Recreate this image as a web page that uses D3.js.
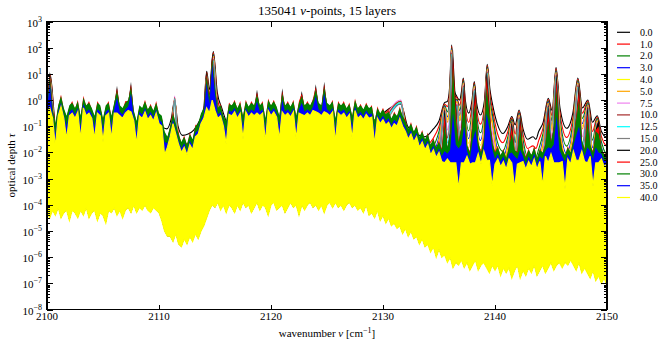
<!DOCTYPE html>
<html><head><meta charset="utf-8">
<script src="https://cdn.jsdelivr.net/npm/d3@7"></script>
<style>
body{margin:0;background:#fff}
svg{display:block}
text{font-family:"Liberation Serif","Times New Roman",serif;fill:#000}
</style>
</head><body>
<svg id="c" width="664" height="345"></svg>
<script>
// ---------------- data (optical depth, stored as log10(tau)) ----------------
const layers = ["0.0","1.0","2.0","3.0","4.0","5.0","7.5","10.0","12.5","15.0","20.0","25.0","30.0","35.0","40.0"];
const xTicks = [2100, 2110, 2120, 2130, 2140, 2150];
const yTickExponents = [3, 2, 1, 0, -1, -2, -3, -4, -5, -6, -7, -8];

// wavenumbers of the read-off nodes for the broad-line layers (0.0 ... 15.0)
const nuNodes = [2100.0, 2100.27, 2100.8, 2105.0, 2109.0, 2110.0, 2110.7, 2111.1, 2111.4, 2111.7,
  2112.1, 2112.6, 2113.1, 2113.6, 2114.0, 2114.26, 2114.5, 2114.85, 2115.2, 2115.6,
  2116.3, 2120.0, 2124.0, 2128.0, 2131.6, 2132.2, 2133.0, 2133.75, 2134.5, 2135.0,
  2135.5, 2135.75, 2135.95, 2136.13, 2136.35, 2136.6, 2136.85, 2137.0, 2137.17, 2137.35,
  2137.65, 2137.95, 2138.15, 2138.35, 2138.7, 2139.05, 2139.31, 2139.55, 2139.75, 2140.2,
  2140.7, 2141.15, 2141.5, 2141.8, 2142.15, 2142.5, 2142.9, 2143.4, 2143.65, 2143.9,
  2144.3, 2144.76, 2145.1, 2145.45, 2145.8, 2146.4, 2146.95, 2147.4, 2147.8, 2148.3,
  2148.7, 2149.13, 2149.5, 2150.0];

const log10Tau00 = [-1.0,1.0,-1.0,-1.0,-1.0,-1.0,-1.1,-0.7,0.0,-1.0, -1.35,-1.3,-1.15,-0.8,-0.3,1.1,0.4,1.85,0.3,-0.3,
  -1.0,-1.0,-1.0,-1.0,-0.15,-1.0,-1.3,-1.4,-1.1,-0.8, -0.1,-0.05,0.5,2.1,0.4,0.13,0.0,0.3,0.84,0.0,
  -0.5,0.0,0.71,-0.1,-0.57,-0.05,1.37,0.4,-0.1,-0.9, -1.28,-1.0,-0.63,-0.95,-0.38,-1.1,-1.5,-1.4,-1.5,-1.2,
  -0.85,0.07,-0.4,1.24,-0.3,-1.08,-0.5,0.84,-0.3,0.0, -0.85,-0.6,-1.2,-1.45];
const log10Tau01 = [-1.2,0.95,-1.2,-1.2,-1.2,-1.2,-1.45,-0.9,0.0,-1.2, -1.7,-1.65,-1.5,-1.0,-0.5,1.05,0.2,1.8,0.1,-0.5,
  -1.2,-1.2,-1.2,-1.2,-0.15,-1.2,-1.65,-1.75,-1.45,-1.0, -0.15,-0.25,0.3,2.05,0.2,0.08,-0.2,0.1,0.79,-0.2,
  -0.85,-0.2,0.66,-0.3,-0.92,-0.25,1.32,0.2,-0.3,-1.25, -1.63,-1.2,-0.68,-1.3,-0.43,-1.3,-1.85,-1.75,-1.85,-1.55,
  -1.05,0.02,-0.6,1.19,-0.5,-1.43,-0.7,0.79,-0.5,-0.05, -1.2,-0.65,-1.4,-1.8];
const log10Tau02 = [-1.4,0.9,-1.4,-1.4,-1.4,-1.4,-1.78,-1.1,0.0,-1.4, -2.03,-1.98,-1.83,-1.2,-0.7,1.0,0.0,1.75,-0.1,-0.7,
  -1.4,-1.4,-1.4,-1.4,-0.15,-1.4,-1.98,-2.08,-1.78,-1.2, -0.2,-0.45,0.1,2.0,0.0,0.03,-0.4,-0.1,0.74,-0.4,
  -1.18,-0.4,0.61,-0.5,-1.25,-0.45,1.27,0.0,-0.5,-1.58, -1.96,-1.4,-0.73,-1.63,-0.48,-1.5,-2.18,-2.08,-2.18,-1.88,
  -1.25,-0.03,-0.8,1.14,-0.7,-1.76,-0.9,0.74,-0.7,-0.1, -1.53,-0.7,-1.6,-2.13];
const log10Tau03 = [-1.6,0.85,-1.6,-1.6,-1.6,-1.6,-2.07,-1.3,0.0,-1.6, -2.32,-2.27,-2.12,-1.4,-0.9,0.95,-0.2,1.7,-0.3,-0.9,
  -1.6,-1.6,-1.6,-1.6,-0.15,-1.6,-2.27,-2.37,-2.07,-1.4, -0.25,-0.65,-0.1,1.95,-0.2,-0.02,-0.6,-0.3,0.69,-0.6,
  -1.47,-0.6,0.56,-0.7,-1.54,-0.65,1.22,-0.2,-0.7,-1.87, -2.25,-1.6,-0.78,-1.92,-0.53,-1.7,-2.47,-2.37,-2.47,-2.17,
  -1.45,-0.08,-1.0,1.09,-0.9,-2.05,-1.1,0.69,-0.9,-0.15, -1.82,-0.75,-1.8,-2.42];
const log10Tau04 = [-1.7,0.82,-1.7,-1.7,-1.7,-1.7,-2.25,-1.4,0.05,-1.7, -2.5,-2.45,-2.3,-1.5,-1.0,0.92,-0.3,1.67,-0.4,-1.0,
  -1.7,-1.7,-1.7,-1.7,-0.1,-1.7,-2.45,-2.55,-2.25,-1.5, -0.28,-0.75,-0.2,1.92,-0.3,-0.05,-0.7,-0.4,0.66,-0.7,
  -1.65,-0.7,0.53,-0.8,-1.72,-0.75,1.19,-0.3,-0.8,-2.05, -2.43,-1.7,-0.81,-2.1,-0.56,-1.8,-2.65,-2.55,-2.65,-2.35,
  -1.55,-0.11,-1.1,1.06,-1.0,-2.23,-1.2,0.66,-1.0,-0.18, -2.0,-0.78,-1.9,-2.6];
const log10Tau05 = [-1.8,0.8,-1.8,-1.8,-1.8,-1.8,-2.43,-1.5,0.1,-1.8, -2.68,-2.63,-2.48,-1.6,-1.1,0.9,-0.4,1.65,-0.5,-1.1,
  -1.8,-1.8,-1.8,-1.8,-0.05,-1.8,-2.63,-2.73,-2.43,-1.6, -0.3,-0.85,-0.3,1.9,-0.4,-0.07,-0.8,-0.5,0.64,-0.8,
  -1.83,-0.8,0.51,-0.9,-1.9,-0.85,1.17,-0.4,-0.9,-2.23, -2.61,-1.8,-0.83,-2.28,-0.58,-1.9,-2.83,-2.73,-2.83,-2.53,
  -1.65,-0.13,-1.2,1.04,-1.1,-2.41,-1.3,0.64,-1.1,-0.2, -2.18,-0.8,-2.0,-2.78];
const log10Tau07 = [-2.0,0.75,-2.0,-2.0,-2.0,-2.0,-2.9,-1.8,0.15,-2.1, -3.15,-3.1,-2.95,-1.9,-1.4,0.85,-0.7,1.6,-0.8,-1.4,
  -2.0,-2.0,-2.0,-2.0,0.0,-2.1,-3.1,-3.2,-2.9,-1.9, -0.35,-1.15,-0.6,1.85,-0.7,-0.12,-1.1,-0.8,0.59,-1.1,
  -2.3,-1.1,0.46,-1.2,-2.37,-1.15,1.12,-0.7,-1.2,-2.7, -3.08,-2.1,-0.88,-2.75,-0.63,-2.2,-3.3,-3.2,-3.3,-3.0,
  -1.95,-0.18,-1.5,0.99,-1.4,-2.88,-1.6,0.59,-1.4,-0.25, -2.65,-0.85,-2.3,-3.25];
const log10Tau10 = [-2.2,0.7,-2.2,-2.2,-2.2,-2.2,-3.3,-2.1,0.1,-2.4, -3.55,-3.5,-3.35,-2.2,-1.7,0.8,-1.0,1.55,-1.1,-1.7,
  -2.2,-2.2,-2.2,-2.2,-0.05,-2.4,-3.5,-3.6,-3.3,-2.2, -0.4,-1.45,-0.9,1.8,-1.0,-0.17,-1.4,-1.1,0.54,-1.4,
  -2.7,-1.4,0.41,-1.5,-2.77,-1.45,1.07,-1.0,-1.5,-3.1, -3.48,-2.4,-0.93,-3.15,-0.68,-2.5,-3.7,-3.6,-3.7,-3.4,
  -2.25,-0.23,-1.8,0.94,-1.7,-3.28,-1.9,0.54,-1.7,-0.3, -3.05,-0.9,-2.6,-3.65];
const log10Tau12 = [-2.4,0.65,-2.4,-2.4,-2.4,-2.4,-3.65,-2.3,0.05,-2.6, -3.9,-3.85,-3.7,-2.4,-1.9,0.75,-1.2,1.5,-1.3,-1.9,
  -2.4,-2.4,-2.4,-2.4,-0.1,-2.6,-3.85,-3.95,-3.65,-2.4, -0.45,-1.65,-1.1,1.75,-1.2,-0.22,-1.6,-1.3,0.49,-1.6,
  -3.05,-1.6,0.36,-1.7,-3.12,-1.65,1.02,-1.2,-1.7,-3.45, -3.83,-2.6,-0.98,-3.5,-0.73,-2.7,-4.05,-3.95,-4.05,-3.75,
  -2.45,-0.28,-2.0,0.89,-1.9,-3.63,-2.1,0.49,-1.9,-0.35, -3.4,-0.95,-2.8,-4.0];
const log10Tau15 = [-2.6,0.6,-2.6,-2.6,-2.6,-2.6,-4.0,-2.5,0.0,-2.8, -4.25,-4.2,-4.05,-2.6,-2.1,0.7,-1.4,1.45,-1.5,-2.1,
  -2.6,-2.6,-2.6,-2.6,-0.15,-2.8,-4.2,-4.3,-4.0,-2.6, -0.5,-1.85,-1.3,1.7,-1.4,-0.27,-1.8,-1.5,0.44,-1.8,
  -3.4,-1.8,0.31,-1.9,-3.47,-1.85,0.97,-1.4,-1.9,-3.8, -4.18,-2.8,-1.03,-3.85,-0.78,-2.9,-4.4,-4.3,-4.4,-4.1,
  -2.65,-0.33,-2.2,0.84,-2.1,-3.98,-2.3,0.44,-2.1,-0.4, -3.75,-1.0,-3.0,-4.35];

// narrow-line layers (20.0 ... 40.0): per-sample maxima on a 0.25 cm^-1 grid, 2100 ... 2150
const nuGrid = d3.range(2100, 2150.001, 0.25);
const log10Tau20Max = [-0.2,1.1,-0.4,-1.0,-0.3,0.05,-0.4,-0.7,-0.3,-0.2, -0.4,-0.15,-0.7,0.0,-0.3,-0.2,-0.4,-0.7,-0.2,-0.3,
  -0.8,-0.3,-0.2,-0.7,-0.2,0.55,-0.3,-0.4,-0.2,-0.1, 0.7,-0.5,-0.9,-0.3,-0.4,-0.15,-0.45,-0.3,-0.5,-0.2,
  -0.6,-0.7,-1.3,-1.5,-1.1,-0.6,-1.0,-1.4,-1.7,-1.5, -1.8,-1.4,-1.6,-1.1,-1.0,-0.6,-0.4,1.1,0.0,1.8,
  0.4,-0.4,-0.3,-0.7,-0.9,-0.25,-0.3,-0.15,-0.4,-0.2, -0.7,-0.15,-0.35,-0.2,-0.3,0.4,-0.3,-0.2,-0.8,-0.1,
  -0.3,-0.15,-0.35,-0.7,0.45,-0.3,-0.2,-0.35,-0.15,-0.7, -0.2,0.35,-0.3,-0.2,-0.3,-0.1,0.6,-0.2,-0.3,0.7,
  -0.2,-0.3,-0.15,-0.8,-0.2,-0.3,-0.2,-0.4,-0.25,-0.7, -0.1,-0.4,-0.3,-0.45,-0.25,-0.4,-0.35,-0.9,-0.4,-0.6,
  -0.45,-0.65,-0.55,-0.8,-0.6,-0.7,-0.4,-0.7,-0.9,-1.2, -1.0,-1.3,-1.1,-1.5,-1.3,-1.6,-1.4,-1.8,-1.6,-1.9,
  -1.7,-2.0,-0.25,-1.9,-1.2,1.95,0.0,-1.7,-1.0,0.7, -1.8,-2.1,-0.8,0.55,-1.7,-2.1,-1.6,1.2,-0.2,-1.7,
  -2.1,-1.9,-2.2,-2.0,-2.3,-1.9,-0.75,-2.0,-2.1,-0.5, -2.0,-2.3,-2.0,-2.2,-1.9,-2.3,-2.0,-2.1,-1.8,-0.1,
  -1.7,-1.0,1.1,-1.2,-2.0,-2.2,-1.9,-2.1,-1.6,-0.6, 0.7,-1.6,-2.0,-0.15,-1.8,-2.1,-1.1,-0.75,-1.9,-2.2,
  -2.1];
const log10Tau25Max = [-0.04,1.0,-0.35,-0.95,-0.25,0.21,-0.35,-0.65,-0.25,-0.04, -0.35,0.01,-0.65,0.16,-0.25,-0.04,-0.35,-0.65,-0.04,-0.25,
  -0.75,-0.25,-0.04,-0.65,-0.15,0.45,-0.25,-0.35,-0.04,-0.05, 0.6,-0.45,-0.85,-0.25,-0.35,0.01,-0.4,-0.14,-0.45,-0.04,
  -0.55,-0.65,-1.25,-1.45,-1.05,-0.44,-0.95,-1.35,-1.65,-1.34, -1.75,-1.24,-1.55,-0.94,-0.95,-0.55,-0.35,1.0,0.05,1.7,
  0.45,-0.35,-0.14,-0.65,-0.85,-0.09,-0.25,0.01,-0.35,-0.04, -0.65,0.01,-0.3,-0.04,-0.25,0.3,-0.25,-0.04,-0.75,0.06,
  -0.25,0.01,-0.3,-0.65,0.35,-0.25,-0.04,-0.3,0.01,-0.65, -0.04,0.25,-0.25,-0.04,-0.25,0.06,0.5,-0.15,-0.25,0.6,
  -0.15,-0.25,0.01,-0.75,-0.04,-0.25,-0.04,-0.35,-0.09,-0.65, 0.06,-0.35,-0.14,-0.4,-0.09,-0.35,-0.19,-0.85,-0.24,-0.55,
  -0.29,-0.6,-0.39,-0.75,-0.44,-0.65,-0.24,-0.65,-0.74,-1.15, -0.84,-1.25,-0.94,-1.45,-1.14,-1.55,-1.24,-1.75,-1.44,-1.85,
  -1.54,-1.85,-0.55,-1.85,-1.25,1.65,-0.3,-1.55,-1.05,0.4, -1.75,-1.95,-0.85,0.25,-1.65,-1.95,-1.45,0.9,-0.3,-1.65,
  -1.95,-1.75,-2.15,-1.85,-2.25,-1.75,-1.0,-1.95,-1.95,-0.8, -1.95,-2.15,-1.85,-2.15,-1.75,-2.25,-1.85,-2.05,-1.65,-0.4,
  -1.65,-1.05,0.8,-1.25,-1.85,-2.15,-1.75,-2.05,-1.45,-0.65, 0.4,-1.55,-1.85,-0.45,-1.75,-1.95,-1.15,-1.0,-1.85,-2.05,
  -2.05];
const log10Tau30Max = [-0.1,0.9,-0.3,-0.9,-0.2,0.15,-0.3,-0.6,-0.2,-0.1, -0.3,-0.05,-0.6,0.1,-0.2,-0.1,-0.3,-0.6,-0.1,-0.2,
  -0.7,-0.2,-0.1,-0.6,-0.1,0.35,-0.2,-0.3,-0.1,0.0, 0.5,-0.4,-0.8,-0.2,-0.3,-0.05,-0.35,-0.2,-0.4,-0.1,
  -0.5,-0.6,-1.2,-1.4,-1.0,-0.5,-0.9,-1.3,-1.6,-1.4, -1.7,-1.3,-1.5,-1.0,-0.9,-0.5,-0.3,0.9,0.1,1.6,
  0.5,-0.3,-0.2,-0.6,-0.8,-0.15,-0.2,-0.05,-0.3,-0.1, -0.6,-0.05,-0.25,-0.1,-0.2,0.2,-0.2,-0.1,-0.7,0.0,
  -0.2,-0.05,-0.25,-0.6,0.25,-0.2,-0.1,-0.25,-0.05,-0.6, -0.1,0.15,-0.2,-0.1,-0.2,0.0,0.4,-0.1,-0.2,0.5,
  -0.1,-0.2,-0.05,-0.7,-0.1,-0.2,-0.1,-0.3,-0.15,-0.6, 0.0,-0.3,-0.2,-0.35,-0.15,-0.3,-0.25,-0.8,-0.3,-0.5,
  -0.35,-0.55,-0.45,-0.7,-0.5,-0.6,-0.3,-0.6,-0.8,-1.1, -0.9,-1.2,-1.0,-1.4,-1.2,-1.5,-1.3,-1.7,-1.5,-1.8,
  -1.6,-1.9,-0.95,-1.8,-1.3,1.25,-0.7,-1.6,-1.1,0.0, -1.7,-2.0,-0.95,-0.15,-1.6,-2.0,-1.5,0.5,-0.5,-1.6,
  -2.0,-1.8,-2.1,-1.9,-2.2,-1.8,-1.3,-1.9,-2.0,-1.1, -1.9,-2.2,-1.9,-2.1,-1.8,-2.2,-1.9,-2.0,-1.7,-0.8,
  -1.6,-1.1,0.4,-1.3,-1.9,-2.1,-1.8,-2.0,-1.5,-0.75, 0.0,-1.5,-1.9,-0.8,-1.7,-2.0,-1.2,-1.3,-1.8,-2.1,
  -2.0];
const log10Tau35Max = [-0.35,0.65,-0.55,-1.3,-0.45,-0.1,-0.55,-1.0,-0.45,-0.35, -0.55,-0.3,-1.0,-0.15,-0.45,-0.35,-0.55,-1.0,-0.35,-0.45,
  -1.1,-0.45,-0.35,-1.0,-0.35,0.1,-0.45,-0.55,-0.35,-0.25, 0.25,-0.65,-1.2,-0.45,-0.55,-0.3,-0.6,-0.45,-0.65,-0.35,
  -0.75,-0.85,-1.6,-1.65,-1.25,-0.75,-1.15,-1.55,-1.85,-1.65, -1.95,-1.55,-1.75,-1.25,-1.15,-0.75,-0.55,0.65,-0.15,1.35,
  0.25,-0.55,-0.45,-0.85,-1.2,-0.4,-0.45,-0.3,-0.55,-0.35, -1.0,-0.3,-0.5,-0.35,-0.45,-0.05,-0.45,-0.35,-1.1,-0.25,
  -0.45,-0.3,-0.5,-1.0,0.0,-0.45,-0.35,-0.5,-0.3,-1.0, -0.35,-0.1,-0.45,-0.35,-0.45,-0.25,0.15,-0.35,-0.45,0.25,
  -0.35,-0.45,-0.3,-1.1,-0.35,-0.45,-0.35,-0.55,-0.4,-1.0, -0.25,-0.55,-0.45,-0.6,-0.4,-0.55,-0.5,-1.2,-0.55,-0.75,
  -0.6,-0.8,-0.7,-0.95,-0.75,-0.85,-0.55,-0.85,-1.05,-1.35, -1.15,-1.45,-1.25,-1.65,-1.45,-1.75,-1.55,-1.95,-1.75,-2.05,
  -1.85,-2.15,-1.95,-2.05,-1.9,-0.5,-1.7,-1.85,-1.7,-1.0, -1.95,-2.25,-1.55,-1.15,-1.85,-2.25,-1.75,-0.5,-1.1,-1.85,
  -2.25,-2.05,-2.35,-2.15,-2.45,-2.05,-2.0,-2.15,-2.25,-1.9, -2.15,-2.45,-2.15,-2.35,-2.05,-2.45,-2.15,-2.25,-1.95,-1.8,
  -1.85,-1.7,-0.6,-1.9,-2.15,-2.35,-2.05,-2.25,-1.75,-1.35, -1.0,-1.75,-2.15,-1.8,-1.95,-2.25,-1.8,-2.0,-2.05,-2.35,
  -2.25];
const log10Tau40Max = [-0.5,-0.3,-0.7,-1.8,-0.6,-0.25,-0.7,-1.5,-0.6,-0.5, -0.7,-0.45,-1.5,-0.3,-0.6,-0.5,-0.7,-1.5,-0.5,-0.6,
  -1.6,-0.6,-0.5,-1.5,-0.5,-0.5,-0.6,-0.7,-0.5,-0.4, -0.45,-0.8,-1.7,-0.6,-0.7,-0.45,-0.75,-0.6,-0.8,-0.5,
  -0.9,-1.0,-2.1,-1.8,-1.4,-0.9,-1.3,-1.7,-2.0,-1.8, -2.1,-1.7,-1.9,-1.4,-1.3,-0.9,-0.7,-0.3,-0.5,0.0,
  -0.4,-0.7,-0.6,-1.0,-1.7,-0.55,-0.6,-0.45,-0.7,-0.5, -1.5,-0.45,-0.65,-0.5,-0.6,-0.5,-0.6,-0.5,-1.6,-0.4,
  -0.6,-0.45,-0.65,-1.5,-0.45,-0.6,-0.5,-0.65,-0.45,-1.5, -0.5,-0.55,-0.6,-0.5,-0.6,-0.4,-0.45,-0.5,-0.6,-0.45,
  -0.5,-0.6,-0.45,-1.6,-0.5,-0.6,-0.5,-0.7,-0.55,-1.5, -0.4,-0.7,-0.6,-0.75,-0.55,-0.7,-0.65,-1.7,-0.7,-0.9,
  -0.75,-0.95,-0.85,-1.1,-0.9,-1.0,-0.7,-1.0,-1.2,-1.5, -1.3,-1.6,-1.4,-1.8,-1.6,-1.9,-1.7,-2.1,-1.9,-2.2,
  -2.0,-2.35,-2.4,-2.25,-2.4,-2.4,-2.4,-3.4,-2.4,-2.4, -2.15,-2.45,-2.4,-2.4,-2.05,-2.45,-1.95,-2.3,-2.3,-3.3,
  -2.45,-2.25,-2.55,-2.35,-2.65,-2.25,-2.4,-3.4,-2.45,-2.4, -2.35,-2.65,-2.35,-2.55,-2.25,-2.65,-2.35,-3.3,-2.15,-2.4,
  -2.05,-2.4,-2.4,-2.4,-2.35,-3.4,-2.25,-2.45,-1.95,-2.3, -2.3,-1.95,-2.35,-2.4,-2.15,-3.3,-2.4,-2.4,-2.25,-2.55,
  -2.45];
// per-sample minima of the top (40.0) layer
const log10Tau40Min = [-4.3,-4.5,-4.2,-4.4,-4.1,-4.5,-4.3,-4.2,-4.6,-4.2, -4.3,-4.5,-4.2,-4.4,-4.1,-4.5,-4.3,-4.2,-4.6,-4.3,
  -4.4,-4.7,-4.2,-4.3,-4.1,-4.4,-4.2,-4.5,-4.2,-4.1, -4.3,-4.0,-4.3,-4.1,-4.2,-4.0,-4.2,-4.3,-4.1,-4.2,
  -4.3,-4.6,-5.0,-5.2,-5.2,-5.4,-5.1,-5.5,-5.6,-5.3, -5.5,-5.2,-5.4,-5.1,-5.3,-5.0,-4.8,-4.5,-4.2,-4.0,
  -4.1,-3.9,-4.2,-4.0,-4.3,-4.0,-4.1,-4.3,-4.0,-4.2, -3.9,-4.1,-4.0,-4.3,-4.1,-3.9,-4.2,-4.0,-4.1,-4.4,
  -4.0,-3.9,-4.2,-4.1,-4.0,-4.3,-4.1,-3.9,-4.1,-4.0, -4.4,-4.0,-4.2,-4.0,-3.9,-4.1,-4.0,-4.2,-4.0,-4.3,
  -4.0,-3.9,-4.1,-3.9,-4.1,-4.0,-4.2,-4.0,-3.9,-4.1, -4.0,-4.2,-4.1,-4.3,-4.0,-4.4,-4.3,-4.5,-4.2,-4.6,
  -4.4,-4.7,-4.5,-4.8,-4.7,-4.9,-4.8,-5.1,-4.9,-5.2, -5.0,-5.3,-5.2,-5.5,-5.3,-5.6,-5.5,-5.8,-5.6,-6.0,
  -5.7,-6.0,-5.9,-6.2,-6.0,-6.4,-6.2,-6.3,-6.1,-6.4, -6.2,-6.5,-6.3,-6.1,-6.5,-6.3,-6.2,-6.4,-6.6,-6.3,
  -6.5,-6.3,-6.7,-6.4,-6.6,-6.4,-6.8,-6.5,-6.3,-6.8, -6.5,-6.7,-6.4,-6.6,-6.3,-6.7,-6.5,-6.3,-6.6,-6.4,
  -6.2,-6.5,-6.3,-6.2,-6.4,-6.2,-6.3,-6.1,-6.3,-6.5, -6.2,-6.6,-6.4,-6.6,-6.8,-6.5,-6.9,-6.7,-7.0,-6.8,
  -7.1];

// ---------------- styling ----------------
const colors = ["#000000","#ff0000","#008000","#0000ff","#ffff00","#ffa500","#ee82ee","#a52a2a",
                "#00ffff","#808080","#000000","#ff0000","#008000","#0000ff","#ffff00"];
const L = 47, R = 607, T = 21.5, B = 309.5;

const svg = d3.select("#c");
const x = d3.scaleLinear().domain([2100, 2150]).range([L, R]);
const y = d3.scaleLog().domain([1e-8, 1e3]).range([B, T]);

svg.append("defs").append("clipPath").attr("id", "clip")
  .append("rect").attr("x", L).attr("y", T).attr("width", R - L).attr("height", B - T);
const plot = svg.append("g").attr("clip-path", "url(#clip)");

// broad-line layers drawn as lines
const broad = [log10Tau00, log10Tau01, log10Tau02, log10Tau03, log10Tau04,
               log10Tau05, log10Tau07, log10Tau10, log10Tau12, log10Tau15];
const line = d3.line()
  .x((d, i) => x(nuNodes[i]))
  .y(d => y(Math.pow(10, d)))
  .curve(d3.curveMonotoneX);
broad.forEach((arr, k) => {
  plot.append("path").attr("d", line(arr))
    .attr("fill", "none").attr("stroke", colors[k]).attr("stroke-width", 1.1);
});

// narrow-line layers: the dense line fills the band between its sampled maxima and the 40.0 minima
const narrow = [log10Tau20Max, log10Tau25Max, log10Tau30Max, log10Tau35Max, log10Tau40Max];
narrow.forEach((arr, k) => {
  const area = d3.area()
    .x((d, i) => x(nuGrid[i]))
    .y0((d, i) => y(Math.pow(10, log10Tau40Min[i])))
    .y1(d => y(Math.pow(10, d)));
  const last = k === narrow.length - 1;
  plot.append("path").attr("d", area(arr))
    .attr("fill", colors[10 + k])
    .attr("stroke", last ? colors[10 + k] : "none")
    .attr("stroke-width", last ? 1.2 : 0);
});

// ---------------- axes ----------------
const ax = svg.append("g").attr("stroke", "#000").attr("shape-rendering", "crispEdges");
ax.append("rect").attr("x", L).attr("y", T).attr("width", R - L).attr("height", B - T)
  .attr("fill", "none").attr("stroke-width", 1.2);

xTicks.forEach(v => {
  const px = Math.round(x(v)) + 0.5;
  ax.append("line").attr("x1", px).attr("x2", px).attr("y1", B).attr("y2", B - 5);
  ax.append("line").attr("x1", px).attr("x2", px).attr("y1", T).attr("y2", T + 5);
  svg.append("text").attr("x", x(v)).attr("y", 320).attr("text-anchor", "middle")
    .attr("font-size", 11).text(v);
});

yTickExponents.forEach(e => {
  const py = Math.round(y(Math.pow(10, e))) + 0.5;
  ax.append("line").attr("x1", L).attr("x2", L + 6).attr("y1", py).attr("y2", py);
  ax.append("line").attr("x1", R).attr("x2", R - 6).attr("y1", py).attr("y2", py);
  const t = svg.append("text").attr("x", 42).attr("y", py + 4).attr("text-anchor", "end").attr("font-size", 11);
  t.append("tspan").text("10");
  t.append("tspan").attr("dy", -5).attr("font-size", 8).text(e < 0 ? "\u2212" + (-e) : String(e));
  if (e > -8) {
    for (let m = 2; m <= 9; m++) {
      const my = Math.round(y(m * Math.pow(10, e - 1))) + 0.5;
      ax.append("line").attr("x1", L).attr("x2", L + 3).attr("y1", my).attr("y2", my);
      ax.append("line").attr("x1", R).attr("x2", R - 3).attr("y1", my).attr("y2", my);
    }
  }
});

const title = svg.append("text").attr("x", (L + R) / 2).attr("y", 15).attr("text-anchor", "middle").attr("font-size", 13);
title.append("tspan").text("135041 ");
title.append("tspan").attr("font-style", "italic").text("\u03bd");
title.append("tspan").text("-points, 15 layers");

const xl = svg.append("text").attr("x", (L + R) / 2).attr("y", 337).attr("text-anchor", "middle").attr("font-size", 11);
xl.append("tspan").text("wavenumber ");
xl.append("tspan").attr("font-style", "italic").text("\u03bd");
xl.append("tspan").text(" [cm");
xl.append("tspan").attr("dy", -4).attr("font-size", 8).text("\u22121");
xl.append("tspan").attr("dy", 4).text("]");

const yl = svg.append("text").attr("transform", `translate(15,${(T + B) / 2}) rotate(-90)`)
  .attr("text-anchor", "middle").attr("font-size", 11);
yl.append("tspan").text("optical depth ");
yl.append("tspan").attr("font-style", "italic").text("\u03c4");

const lg = svg.append("g");
layers.forEach((name, k) => {
  const ly = 32.3 + k * 11.8;
  lg.append("line").attr("x1", 617).attr("x2", 630).attr("y1", ly).attr("y2", ly)
    .attr("stroke", colors[k]).attr("stroke-width", 1.2);
  lg.append("text").attr("x", 640).attr("y", ly + 3.5).attr("font-size", 10).text(name);
});
</script>
</body></html>
